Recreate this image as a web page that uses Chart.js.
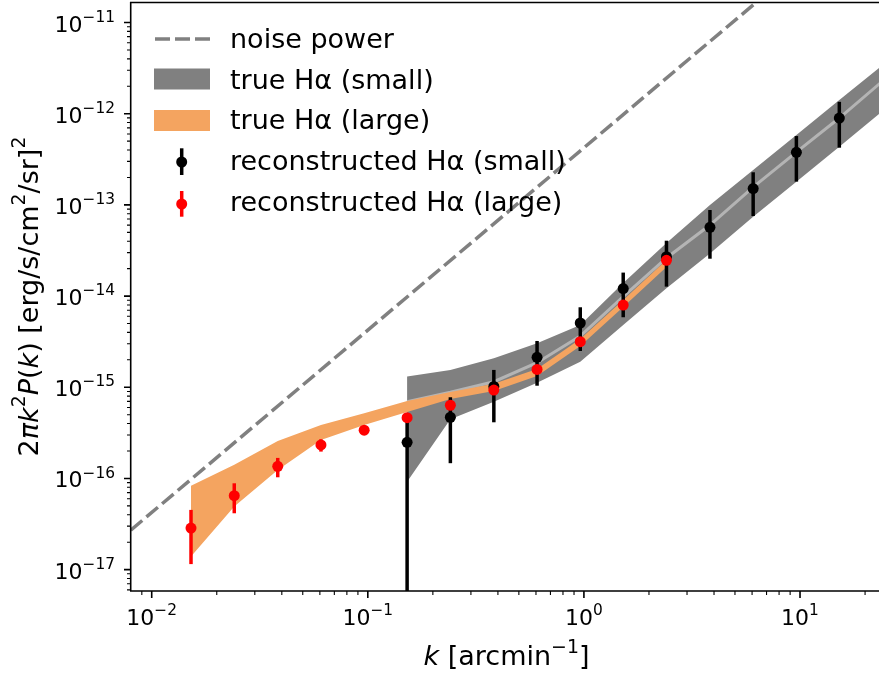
<!DOCTYPE html>
<html><head><meta charset="utf-8">
<script src="https://cdn.jsdelivr.net/npm/chart.js@4.4.1/dist/chart.umd.min.js"></script>
<style>html,body{margin:0;padding:0;background:#fff;}canvas{display:block;}</style>
</head><body>
<canvas id="c" width="879" height="673" style="width:879px;height:673px"></canvas>
<script>
// ---------------- data ----------------
const K_LARGE = [0.0152, 0.0241, 0.0383, 0.0607, 0.0962, 0.152, 0.241, 0.383, 0.607, 0.962, 1.52, 2.41];
const K_SMALL = [0.152, 0.241, 0.383, 0.607, 0.962, 1.52, 2.41, 3.83, 6.07, 9.62, 15.2];
const K_SMALL_BAND = [0.152, 0.241, 0.383, 0.607, 0.962, 1.52, 2.41, 3.83, 6.07, 9.62, 15.2, 24.1];

const RED_P  = [2.86e-17, 6.47e-17, 1.36e-16, 2.33e-16, 3.38e-16, 4.64e-16, 6.35e-16, 9.33e-16, 1.57e-15, 3.16e-15, 7.98e-15, 2.47e-14];
const RED_LO = [1.15e-17, 4.15e-17, 1.03e-16, 1.97e-16, 3.30e-16, 4.50e-16, 6.20e-16, 9.10e-16, 1.50e-15, 2.85e-15, 7.30e-15, 2.30e-14];
const RED_HI = [4.52e-17, 8.85e-17, 1.68e-16, 2.69e-16, 3.47e-16, 4.80e-16, 6.50e-16, 9.60e-16, 1.65e-15, 3.45e-15, 8.70e-15, 2.65e-14];

const BLACK_P  = [2.49e-16, 4.69e-16, 1.02e-15, 2.13e-15, 5.07e-15, 1.21e-14, 2.70e-14, 5.68e-14, 1.51e-13, 3.77e-13, 8.97e-13];
const BLACK_LO = [1e-19, 1.47e-16, 4.13e-16, 1.04e-15, 2.50e-15, 5.86e-15, 1.27e-14, 2.57e-14, 7.55e-14, 1.80e-13, 4.24e-13];
const BLACK_HI = [4.72e-16, 7.77e-16, 1.55e-15, 3.22e-15, 7.54e-15, 1.81e-14, 4.05e-14, 8.79e-14, 2.28e-13, 5.69e-13, 1.35e-12];

const GREY_UP  = [1.31e-15, 1.55e-15, 2.08e-15, 3.03e-15, 4.82e-15, 1.39e-14, 3.82e-14, 9.98e-14, 2.41e-13, 5.84e-13, 1.41e-12, 3.42e-12];
const GREY_LO  = [9.22e-17, 4.46e-16, 6.95e-16, 1.12e-15, 1.91e-15, 4.82e-15, 1.22e-14, 2.94e-14, 7.43e-14, 1.80e-13, 4.35e-13, 1.07e-12];
const GREY_MID = [6.95e-16, 8.81e-16, 1.15e-15, 1.86e-15, 3.65e-15, 9.84e-15, 2.62e-14, 6.02e-14, 1.57e-13, 3.80e-13, 8.97e-13, 2.28e-12];

const ORANGE_UP = [8.34e-17, 1.41e-16, 2.58e-16, 3.86e-16, 5.19e-16, 7.08e-16, 8.87e-16, 1.09e-15, 1.59e-15, 3.39e-15, 9.06e-15, 2.49e-14];
const ORANGE_LO = [1.39e-17, 4.91e-17, 1.24e-16, 2.64e-16, 3.86e-16, 5.36e-16, 7.44e-16, 9.10e-16, 1.33e-15, 2.84e-15, 7.59e-15, 2.08e-14];

const NOISE_K = [0.008, 30];
const NOISE_P = [2.71e-17, 3.81e-10];

const X_MIN = 0.00802, X_MAX = 23.2;
const Y_MIN = 5.83e-18, Y_MAX = 1.68e-11;
const X_TICKS = [0.01, 0.1, 1, 10];
const X_TICK_EXP = ['−2', '−1', '0', '1'];
const Y_TICKS = [1e-17, 1e-16, 1e-15, 1e-14, 1e-13, 1e-12, 1e-11];
const Y_TICK_EXP = ['−17', '−16', '−15', '−14', '−13', '−12', '−11'];
const MINOR_MULT = [2, 3, 4, 5, 6, 7, 8, 9];

const LABELS = {
  noise: 'noise power',
  trueSmall: 'true Hα (small)',
  trueLarge: 'true Hα (large)',
  recSmall: 'reconstructed Hα (small)',
  recLarge: 'reconstructed Hα (large)'
};

// ---------------- helpers ----------------
const pts = (xs, ys) => xs.map((x, i) => ({x, y: ys[i]}));
const FONT = '"DejaVu Sans"';

function drawRich(ctx, segs, x, y, size, align) {
  const parts = segs.map(([t, s]) => {
    const sz = s === 's' ? size * 0.7 : size;
    const font = (s === 'i' ? 'italic ' : '') + sz + 'px ' + FONT;
    ctx.font = font;
    return {t, font, w: ctx.measureText(t).width, dy: s === 's' ? -size * 0.45 : 0};
  });
  const total = parts.reduce((a, p) => a + p.w, 0);
  let cx = align === 'center' ? x - total / 2 : (align === 'right' ? x - total : x);
  ctx.textAlign = 'left';
  ctx.textBaseline = 'alphabetic';
  for (const p of parts) { ctx.font = p.font; ctx.fillText(p.t, cx, y + p.dy); cx += p.w; }
}

// error bars drawn under each point dataset
const errorBarPlugin = {
  id: 'errorBars',
  beforeDatasetDraw(chart, args) {
    const ds = chart.data.datasets[args.index];
    if (!ds.errLo) return;
    const {ctx, chartArea: a} = chart;
    const xs = chart.scales.x, ys = chart.scales.y;
    ctx.save();
    ctx.beginPath(); ctx.rect(a.left, a.top, a.right - a.left, a.bottom - a.top); ctx.clip();
    ctx.strokeStyle = ds.backgroundColor; ctx.lineWidth = 3.5; ctx.lineCap = 'butt';
    ds.data.forEach((p, i) => {
      const px = xs.getPixelForValue(p.x);
      const lo = ys.getPixelForValue(ds.errLo[i]);
      const hi = ys.getPixelForValue(ds.errHi[i]);
      ctx.beginPath(); ctx.moveTo(px, Math.min(lo, a.bottom + 10)); ctx.lineTo(px, hi); ctx.stroke();
    });
    ctx.restore();
  }
};

// axes frame, ticks, tick labels, axis titles, legend
const decorPlugin = {
  id: 'decor',
  afterDraw(chart) {
    const {ctx, chartArea: a} = chart;
    const xs = chart.scales.x, ys = chart.scales.y;
    ctx.save();
    ctx.strokeStyle = '#000'; ctx.fillStyle = '#000';
    // spines
    ctx.lineWidth = 1.6;
    ctx.beginPath();
    ctx.moveTo(a.left - 0.3, a.top); ctx.lineTo(a.left - 0.3, a.bottom);
    ctx.moveTo(a.left - 1, a.bottom); ctx.lineTo(a.right, a.bottom);
    ctx.moveTo(a.left - 1, a.top + 0.5); ctx.lineTo(a.right, a.top + 0.5);
    ctx.stroke();
    // minor ticks
    ctx.lineWidth = 1.1;
    ctx.beginPath();
    for (let d = -3; d <= 1; d++) for (const m of MINOR_MULT) {
      const v = m * Math.pow(10, d);
      if (v < X_MIN || v > X_MAX) continue;
      const px = xs.getPixelForValue(v);
      ctx.moveTo(px, a.bottom); ctx.lineTo(px, a.bottom + 4);
    }
    for (let d = -18; d <= -11; d++) for (const m of MINOR_MULT) {
      const v = m * Math.pow(10, d);
      if (v < Y_MIN || v > Y_MAX) continue;
      const py = ys.getPixelForValue(v);
      ctx.moveTo(a.left, py); ctx.lineTo(a.left - 4, py);
    }
    ctx.stroke();
    // major ticks
    ctx.lineWidth = 1.6;
    ctx.beginPath();
    X_TICKS.forEach(v => { const px = xs.getPixelForValue(v); ctx.moveTo(px, a.bottom); ctx.lineTo(px, a.bottom + 7); });
    Y_TICKS.forEach(v => { const py = ys.getPixelForValue(v); ctx.moveTo(a.left, py); ctx.lineTo(a.left - 7, py); });
    ctx.stroke();
    // tick labels
    X_TICKS.forEach((v, i) => drawRich(ctx, [['10', 'n'], [X_TICK_EXP[i], 's']], xs.getPixelForValue(v), a.bottom + 34, 22, 'center'));
    Y_TICKS.forEach((v, i) => drawRich(ctx, [['10', 'n'], [Y_TICK_EXP[i], 's']], a.left - 16, ys.getPixelForValue(v) + 9, 22, 'right'));
    // axis titles
    drawRich(ctx, [['k', 'i'], [' [arcmin', 'n'], ['−1', 's'], [']', 'n']], (a.left + a.right) / 2 + 1.5, 665, 27, 'center');
    ctx.save();
    ctx.translate(37.5, (a.top + a.bottom) / 2);
    ctx.rotate(-Math.PI / 2);
    drawRich(ctx, [['2', 'n'], ['π', 'i'], ['k', 'i'], ['2', 's'], ['P', 'i'], ['(', 'n'], ['k', 'i'], [')', 'n'],
                   [' [erg/s/cm', 'n'], ['2', 's'], ['/sr]', 'n'], ['2', 's']], 0, 0, 27, 'center');
    ctx.restore();
    // legend
    const tx = 230;
    ctx.lineCap = 'butt';
    ctx.strokeStyle = '#808080'; ctx.lineWidth = 3.5; ctx.setLineDash([15, 5]);
    ctx.beginPath(); ctx.moveTo(155, 39); ctx.lineTo(210, 39); ctx.stroke();
    ctx.setLineDash([]);
    ctx.fillStyle = '#808080'; ctx.fillRect(154, 68.5, 56, 21);
    ctx.fillStyle = '#f4a460'; ctx.fillRect(154, 110, 56, 21);
    [['#000000', 148.3, 175, 162], ['#ff0000', 191, 216.7, 204]].forEach(([c, y0, y1, ym]) => {
      ctx.strokeStyle = c; ctx.fillStyle = c; ctx.lineWidth = 3.5;
      ctx.beginPath(); ctx.moveTo(181.7, y0); ctx.lineTo(181.7, y1); ctx.stroke();
      ctx.beginPath(); ctx.arc(181.7, ym, 5.5, 0, Math.PI * 2); ctx.fill();
    });
    ctx.fillStyle = '#000'; ctx.font = '27px ' + FONT; ctx.textAlign = 'left'; ctx.textBaseline = 'alphabetic';
    [[LABELS.noise, 48], [LABELS.trueSmall, 88.5], [LABELS.trueLarge, 129], [LABELS.recSmall, 169.7], [LABELS.recLarge, 210.5]]
      .forEach(([t, y]) => ctx.fillText(t, tx, y));
    ctx.restore();
  }
};

const noLine = 'rgba(0,0,0,0)';
new Chart(document.getElementById('c'), {
  type: 'scatter',
  data: {
    datasets: [
      {label: LABELS.recLarge, type: 'scatter', data: pts(K_LARGE, RED_P), errLo: RED_LO, errHi: RED_HI,
       backgroundColor: '#ff0000', borderColor: '#ff0000', pointRadius: 5.5, pointBorderWidth: 0, order: 0},
      {label: LABELS.recSmall, type: 'scatter', data: pts(K_SMALL, BLACK_P), errLo: BLACK_LO, errHi: BLACK_HI,
       backgroundColor: '#000000', borderColor: '#000000', pointRadius: 5.5, pointBorderWidth: 0, order: 1},
      {label: LABELS.trueLarge, type: 'line', data: pts(K_LARGE, ORANGE_UP), fill: '+1', backgroundColor: '#f4a460',
       borderColor: noLine, borderWidth: 0, pointRadius: 0, tension: 0, order: 2},
      {label: 'true Hα (large) lower', type: 'line', data: pts(K_LARGE, ORANGE_LO), fill: false,
       borderColor: noLine, borderWidth: 0, pointRadius: 0, tension: 0, order: 3},
      {label: 'true Hα (small) mean', type: 'line', data: pts(K_SMALL_BAND, GREY_MID), fill: false,
       borderColor: '#b4b4b4', borderWidth: 3, pointRadius: 0, tension: 0, order: 4},
      {label: LABELS.trueSmall, type: 'line', data: pts(K_SMALL_BAND, GREY_UP), fill: '+1', backgroundColor: '#808080',
       borderColor: noLine, borderWidth: 0, pointRadius: 0, tension: 0, order: 5},
      {label: 'true Hα (small) lower', type: 'line', data: pts(K_SMALL_BAND, GREY_LO), fill: false,
       borderColor: noLine, borderWidth: 0, pointRadius: 0, tension: 0, order: 6},
      {label: LABELS.noise, type: 'line', data: pts(NOISE_K, NOISE_P), fill: false,
       borderColor: '#808080', borderWidth: 3.5, borderDash: [15, 5.5], pointRadius: 0, tension: 0, order: 7}
    ]
  },
  options: {
    responsive: false, animation: false, devicePixelRatio: 1,
    layout: {autoPadding: false, padding: {left: 0, right: 0, top: 2, bottom: 0}},
    scales: {
      x: {type: 'logarithmic', min: X_MIN, max: X_MAX, afterFit(s) { s.height = 82; },
          grid: {display: false, drawTicks: false}, border: {display: false}, ticks: {display: false}},
      y: {type: 'logarithmic', min: Y_MIN, max: Y_MAX, afterFit(s) { s.width = 131; },
          grid: {display: false, drawTicks: false}, border: {display: false}, ticks: {display: false}}
    },
    plugins: {legend: {display: false}, tooltip: {enabled: false}, filler: {propagate: false}}
  },
  plugins: [errorBarPlugin, decorPlugin]
});
</script>
</body></html>
